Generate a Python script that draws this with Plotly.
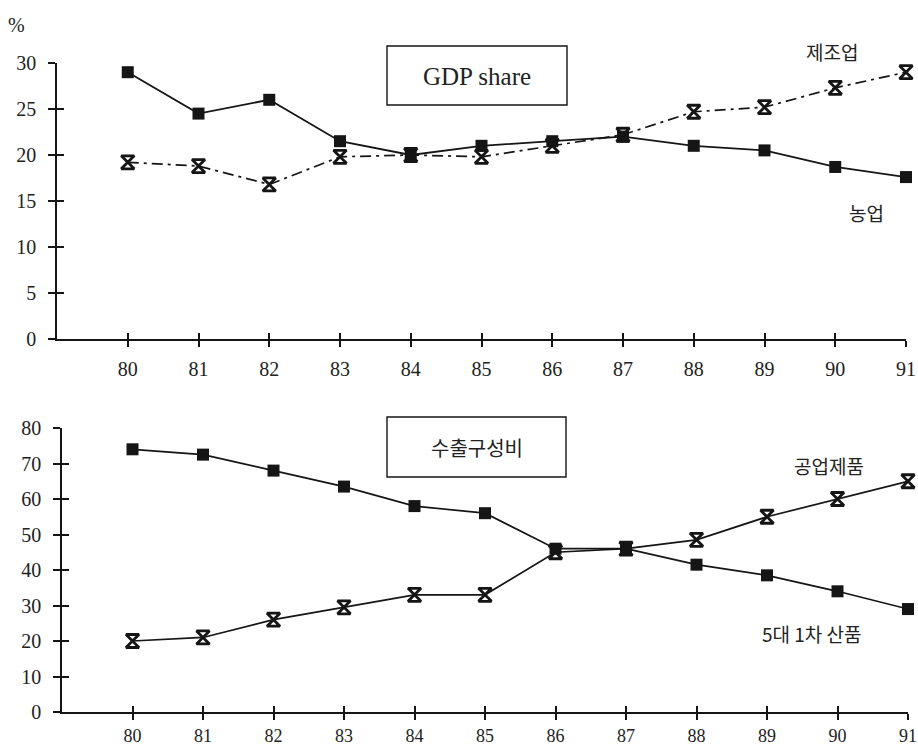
import plotly.graph_objects as go

years = [80, 81, 82, 83, 84, 85, 86, 87, 88, 89, 90, 91]
year_labels = ["80", "81", "82", "83", "84", "85", "86", "87", "88", "89", "90", "91"]

# GDP share (%)
gdp_agri = [29.0, 24.5, 26.0, 21.5, 20.0, 21.0, 21.5, 22.0, 21.0, 20.5, 18.7, 17.6]
gdp_manu = [19.2, 18.8, 16.8, 19.8, 20.0, 19.8, 21.0, 22.2, 24.7, 25.2, 27.3, 29.0]

# Export composition (%)
exp_primary = [74.0, 72.5, 68.0, 63.5, 58.0, 56.0, 46.0, 46.0, 41.5, 38.5, 34.0, 29.0]
exp_manuf = [20.0, 21.0, 26.0, 29.5, 33.0, 33.0, 45.0, 46.0, 48.5, 55.0, 60.0, 65.0]

top_yticks = [0, 5, 10, 15, 20, 25, 30]
bot_yticks = [0, 10, 20, 30, 40, 50, 60, 70, 80]

W, H = 918, 749
INK = "#151515"
SERIF = "Liberation Serif"
KR = "Noto Sans CJK KR"

fig = go.Figure()

sq = dict(symbol="square", size=12, color=INK)
hg = dict(symbol="hourglass-open", size=13, color=INK, line=dict(color=INK, width=2.8))

fig.add_trace(go.Scatter(x=years, y=gdp_agri, mode="lines+markers", xaxis="x", yaxis="y",
                         line=dict(color=INK, width=1.8), marker=sq, cliponaxis=False))
fig.add_trace(go.Scatter(x=years, y=gdp_manu, mode="lines+markers", xaxis="x", yaxis="y",
                         line=dict(color=INK, width=1.7, dash="11px,5px,3px,5px"), marker=hg, cliponaxis=False))
fig.add_trace(go.Scatter(x=years, y=exp_primary, mode="lines+markers", xaxis="x2", yaxis="y2",
                         line=dict(color=INK, width=1.7), marker=sq, cliponaxis=False))
fig.add_trace(go.Scatter(x=years, y=exp_manuf, mode="lines+markers", xaxis="x2", yaxis="y2",
                         line=dict(color=INK, width=1.7), marker=hg, cliponaxis=False))

# invisible traces for overlay axes (inner half of crossing ticks)
fig.add_trace(go.Scatter(x=years, y=gdp_agri, mode="lines", xaxis="x3", yaxis="y3",
                         line=dict(width=0), opacity=0, hoverinfo="skip"))
fig.add_trace(go.Scatter(x=years, y=exp_primary, mode="lines", xaxis="x4", yaxis="y4",
                         line=dict(width=0), opacity=0, hoverinfo="skip"))

top_x = [57 / W, 906 / W]
top_y = [1 - 339 / H, 1 - 63 / H]
bot_x = [62 / W, 908 / W]
bot_y = [1 - 712 / H, 1 - 428 / H]

def xax(domain, anchor, inside=False, overlay=None, standoff=5, fsize=20):
    d = dict(domain=domain, anchor=anchor, range=[79, 91], tickvals=years,
             showgrid=False, zeroline=False, showline=True, linecolor=INK, linewidth=1.7,
             ticks="inside" if inside else "outside", ticklen=6, tickwidth=1.5, tickcolor=INK,
             fixedrange=True, automargin=False)
    if inside:
        d.update(showticklabels=False, overlaying=overlay)
    else:
        d.update(ticktext=year_labels, tickfont=dict(family=SERIF, size=fsize, color="#222"),
                 ticklabelstandoff=standoff)
    return d

def yax(domain, anchor, rng, tv, inside=False, overlay=None):
    d = dict(domain=domain, anchor=anchor, range=rng, tickvals=tv,
             showgrid=False, zeroline=False, showline=True, linecolor=INK, linewidth=1.7,
             ticks="inside" if inside else "outside", ticklen=7, tickwidth=1.5, tickcolor=INK,
             fixedrange=True, automargin=False)
    if inside:
        d.update(showticklabels=False, overlaying=overlay)
    else:
        d.update(tickfont=dict(family=SERIF, size=20, color="#222"), ticklabelstandoff=8)
    return d

fig.update_layout(
    template="none",
    width=W, height=H,
    margin=dict(l=0, r=0, t=0, b=0, autoexpand=False),
    paper_bgcolor="white", plot_bgcolor="white",
    showlegend=False,
    xaxis=xax(top_x, "y"),
    yaxis=yax(top_y, "x", [0, 30], top_yticks),
    xaxis2=xax(bot_x, "y2", standoff=1, fsize=18),
    yaxis2=yax(bot_y, "x2", [0, 80], bot_yticks),
    xaxis3=xax(top_x, "y3", inside=True, overlay="x"),
    yaxis3=yax(top_y, "x3", [0, 30], top_yticks, inside=True, overlay="y"),
    xaxis4=xax(bot_x, "y4", inside=True, overlay="x2"),
    yaxis4=yax(bot_y, "x4", [0, 80], bot_yticks, inside=True, overlay="y2"),
)

# title boxes
fig.add_shape(type="rect", xref="paper", yref="paper",
              x0=387 / W, x1=567 / W, y0=1 - 105 / H, y1=1 - 46 / H,
              line=dict(color=INK, width=1.4))
fig.add_shape(type="rect", xref="paper", yref="paper",
              x0=387 / W, x1=566 / W, y0=1 - 477 / H, y1=1 - 417 / H,
              line=dict(color=INK, width=1.4))

def note(text, px, py, font, size):
    fig.add_annotation(text=text, xref="paper", yref="paper", x=px / W, y=1 - py / H,
                       xanchor="center", yanchor="middle", showarrow=False,
                       font=dict(family=font, size=size, color="#222"))

note("GDP share", 477, 76, SERIF, 25)
note("수출구성비", 477, 447, KR, 20)
note("%", 16, 25, SERIF, 20)
note("제조업", 832, 52, KR, 19)
note("농업", 866, 212, KR, 19)
note("공업제품", 829, 465, KR, 19)
note("5대 1차 산품", 812, 633, KR, 19)

fig.write_html("out.html", config={"displayModeBar": False},
               post_script="document.body.style.margin='0px';")
